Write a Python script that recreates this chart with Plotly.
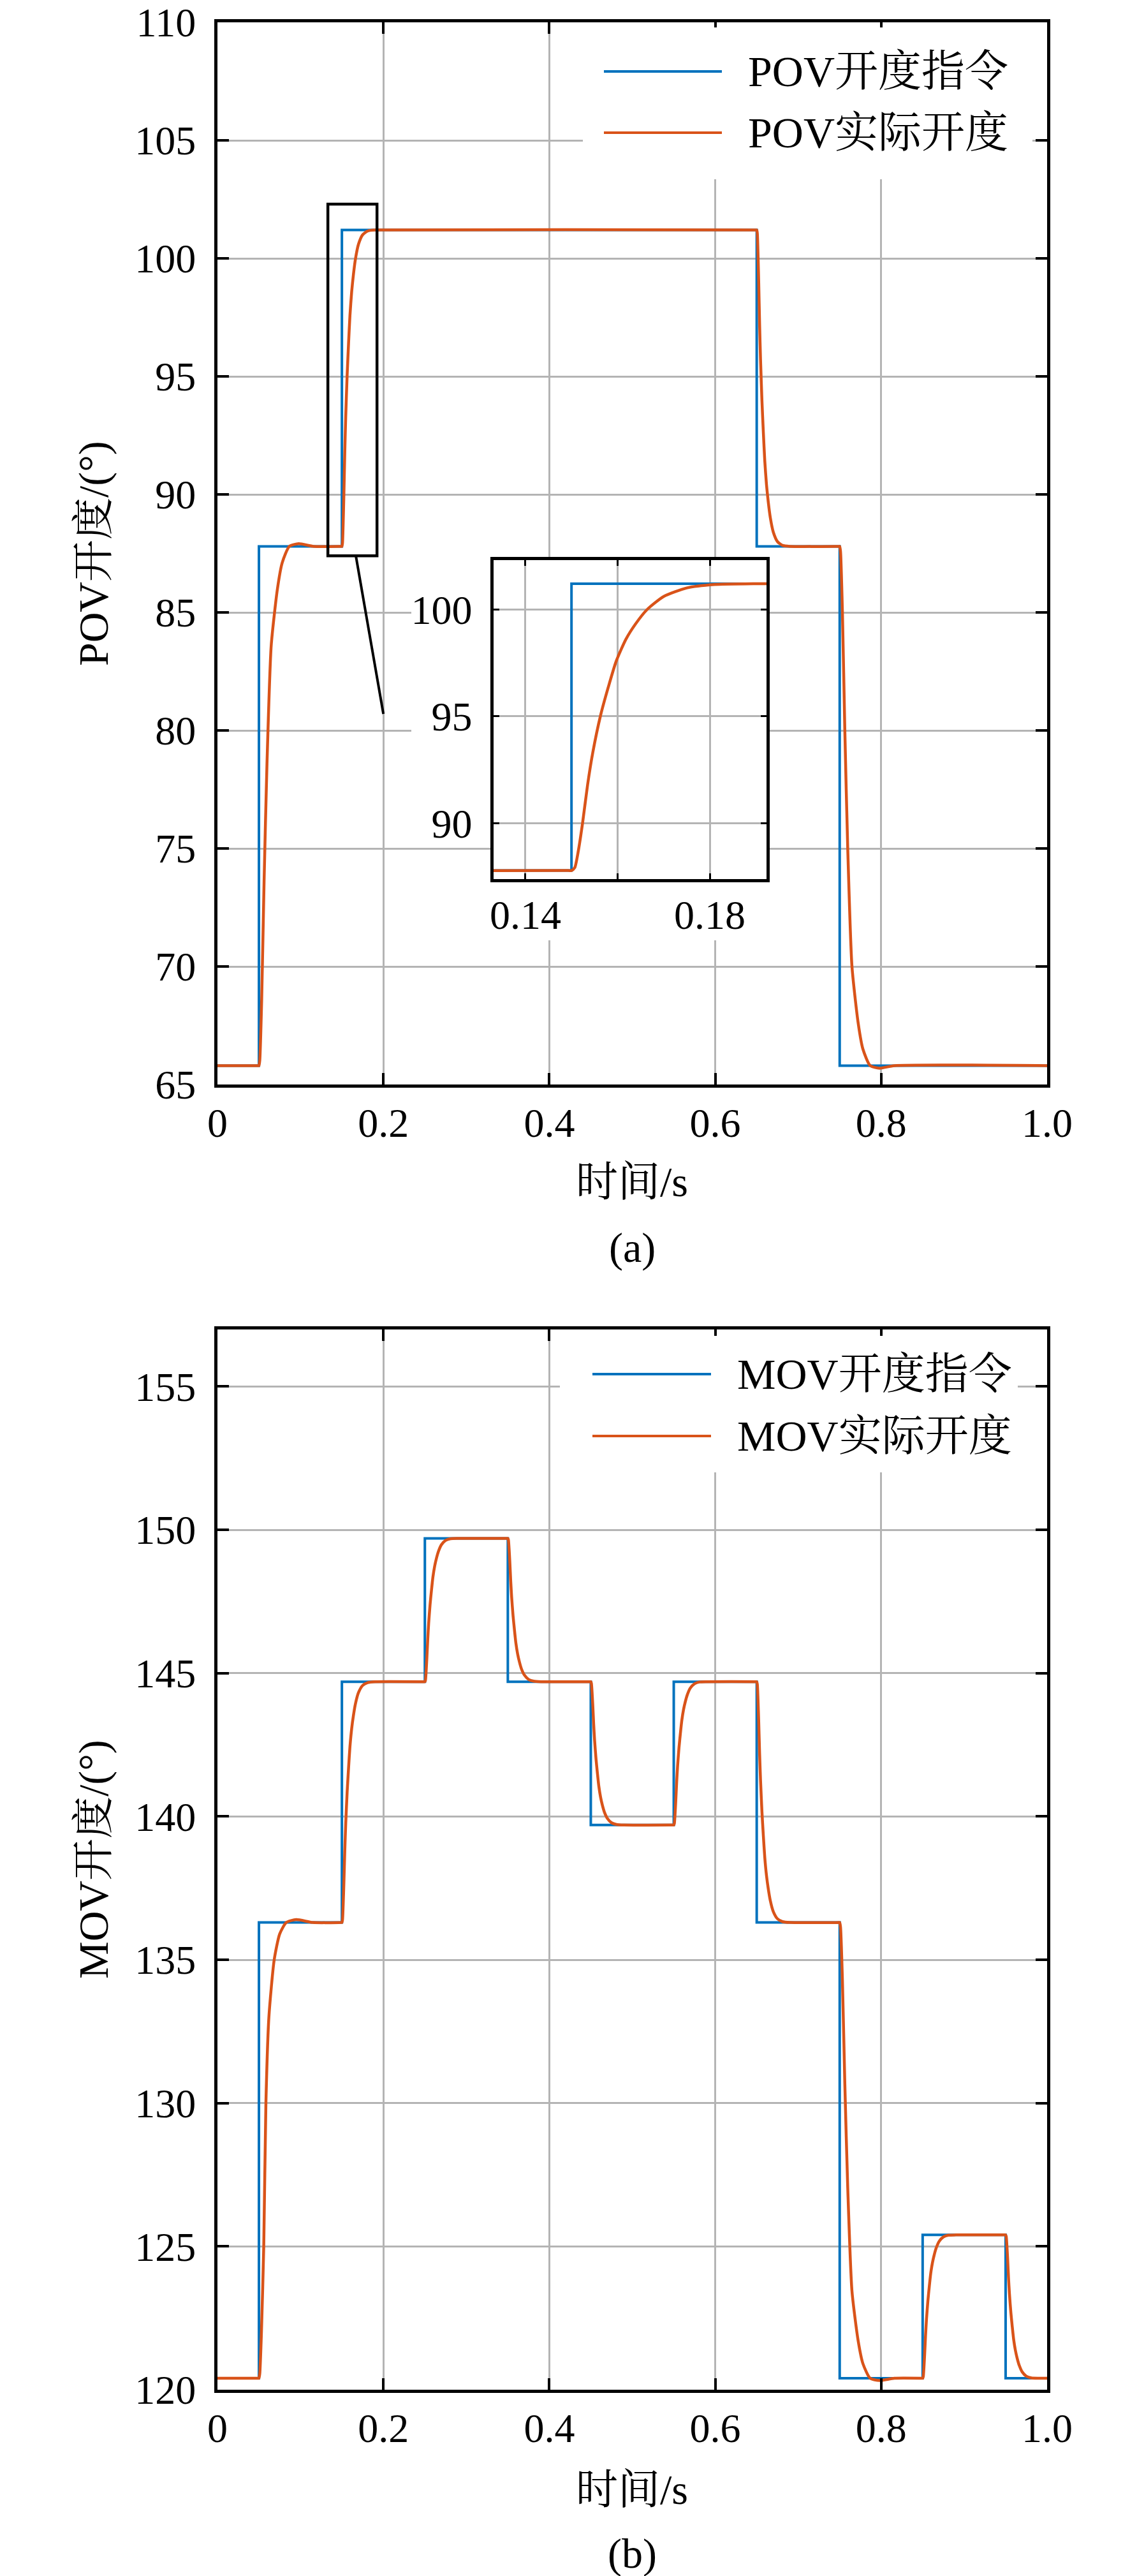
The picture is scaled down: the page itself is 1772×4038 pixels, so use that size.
import plotly.graph_objects as go

# ---- data ----
# (a) POV
pov_cmd_t = [0, 0.05, 0.15, 0.65, 0.75, 1.0]
pov_cmd = [65.8, 87.8, 101.2, 87.8, 65.8, 65.8]

pov_act_t = [0, 0.0493, 0.05,
             0.051, 0.0533, 0.0562, 0.0597, 0.0648, 0.0723, 0.078, 0.0867, 0.098, 0.116,
             0.1493, 0.15, 0.1507, 0.1515, 0.1524, 0.1535, 0.1546, 0.1563, 0.158, 0.1597, 0.1618,
             0.1639, 0.1664, 0.17, 0.175, 0.181, 0.19,
             0.6493, 0.65, 0.6507, 0.6515, 0.6524, 0.6535, 0.6546, 0.6563, 0.658, 0.6597, 0.6618,
             0.6639, 0.6664, 0.67, 0.675, 0.681, 0.69,
             0.7493, 0.75, 0.751, 0.7533, 0.7562, 0.7597, 0.7648, 0.7723, 0.778, 0.7867, 0.798, 0.816,
             1.0]
pov_act = [65.8, 65.8, 65.8,
           66.02, 68.59, 73.61, 78.60, 83.60, 86.00, 87.10, 87.80, 87.91, 87.80,
           87.8, 87.8, 87.93, 88.74, 90.01, 91.82, 93.29, 95.04, 96.38, 97.58, 98.60,
           99.32, 99.99, 100.60, 101.00, 101.16, 101.2,
           101.2, 101.2, 101.07, 100.26, 98.99, 97.18, 95.71, 93.96, 92.62, 91.42, 90.40,
           89.68, 89.01, 88.40, 88.00, 87.84, 87.80,
           87.8, 87.8, 87.58, 85.01, 79.99, 75.0, 70.0, 67.60, 66.50, 65.80, 65.69, 65.80,
           65.8]

# (b) MOV
mov_cmd_t = [0, 0.05, 0.15, 0.25, 0.35, 0.45, 0.55, 0.65, 0.75, 0.85, 0.95, 1.0]
mov_cmd = [120.4, 136.3, 144.7, 149.7, 144.7, 139.7, 144.7, 136.3, 120.4, 125.4, 120.4, 120.4]

mov_act_t = [0, 0.0493, 0.05,
             0.051, 0.053, 0.0558, 0.0584, 0.062, 0.0684, 0.075, 0.083, 0.095, 0.115,
             0.1493, 0.15, 0.1507, 0.1515, 0.1524, 0.1535, 0.1546, 0.1563, 0.158, 0.1597, 0.1618,
             0.1639, 0.1664, 0.17, 0.175, 0.181, 0.19,
             0.2493, 0.25, 0.2507, 0.2515, 0.2524, 0.2535, 0.2546, 0.2563, 0.258, 0.2597, 0.2618,
             0.2639, 0.2664, 0.27, 0.275, 0.281, 0.29,
             0.3493, 0.35, 0.3507, 0.3515, 0.3524, 0.3535, 0.3546, 0.3563, 0.358, 0.3597, 0.3618,
             0.3639, 0.3664, 0.37, 0.375, 0.381, 0.39,
             0.4493, 0.45, 0.4507, 0.4515, 0.4524, 0.4535, 0.4546, 0.4563, 0.458, 0.4597, 0.4618,
             0.4639, 0.4664, 0.47, 0.475, 0.481, 0.49,
             0.5493, 0.55, 0.5507, 0.5515, 0.5524, 0.5535, 0.5546, 0.5563, 0.558, 0.5597, 0.5618,
             0.5639, 0.5664, 0.57, 0.575, 0.581, 0.59,
             0.6493, 0.65, 0.6507, 0.6515, 0.6524, 0.6535, 0.6546, 0.6563, 0.658, 0.6597, 0.6618,
             0.6639, 0.6664, 0.67, 0.675, 0.681, 0.69,
             0.7493, 0.75, 0.751, 0.7533, 0.7562, 0.7597, 0.7648, 0.7723, 0.778, 0.7867, 0.798, 0.816,
             0.8493, 0.85, 0.8507, 0.8515, 0.8524, 0.8535, 0.8546, 0.8563, 0.858, 0.8597, 0.8618,
             0.8639, 0.8664, 0.87, 0.875, 0.881, 0.89,
             0.9493, 0.95, 0.9507, 0.9515, 0.9524, 0.9535, 0.9546, 0.9563, 0.958, 0.9597, 0.9618,
             0.9639, 0.9664, 0.97, 0.975, 0.981, 0.99,
             1.0]
mov_act = [120.4, 120.4, 120.4,
           120.56, 122.0, 125.0, 130.0, 133.0, 135.0, 135.9, 136.3, 136.4, 136.3,
           136.3, 136.3, 136.38, 136.89, 137.69, 138.82, 139.74, 140.84, 141.68, 142.43, 143.07,
           143.52, 143.94, 144.32, 144.57, 144.67, 144.7,
           144.7, 144.7, 144.75, 145.05, 145.53, 146.2, 146.75, 147.4, 147.9, 148.35, 148.73,
           149.0, 149.25, 149.48, 149.63, 149.69, 149.7,
           149.7, 149.7, 149.65, 149.35, 148.88, 148.2, 147.65, 147.0, 146.5, 146.05, 145.67,
           145.4, 145.15, 144.93, 144.78, 144.72, 144.7,
           144.7, 144.7, 144.65, 144.35, 143.88, 143.2, 142.65, 142.0, 141.5, 141.05, 140.67,
           140.4, 140.15, 139.93, 139.78, 139.72, 139.7,
           139.7, 139.7, 139.75, 140.05, 140.53, 141.2, 141.75, 142.4, 142.9, 143.35, 143.73,
           144.0, 144.25, 144.48, 144.63, 144.69, 144.7,
           144.7, 144.7, 144.62, 144.11, 143.31, 142.18, 141.26, 140.16, 139.32, 138.57, 137.93,
           137.48, 137.06, 136.68, 136.43, 136.33, 136.3,
           136.3, 136.3, 136.14, 134.28, 130.66, 127.05, 123.44, 121.70, 120.91, 120.4, 120.32, 120.4,
           120.4, 120.4, 120.45, 120.75, 121.23, 121.9, 122.45, 123.1, 123.6, 124.05, 124.43,
           124.7, 124.95, 125.18, 125.33, 125.39, 125.4,
           125.4, 125.4, 125.35, 125.05, 124.58, 123.9, 123.35, 122.7, 122.2, 121.75, 121.37,
           121.1, 120.85, 120.62, 120.47, 120.41, 120.4,
           120.4]

x_ticks = [0, 0.2, 0.4, 0.6, 0.8, 1.0]
x_labels = ["0", "0.2", "0.4", "0.6", "0.8", "1.0"]
pov_ticks = [65, 70, 75, 80, 85, 90, 95, 100, 105, 110]
mov_ticks = [120, 125, 130, 135, 140, 145, 150, 155]

inset_xrange = [0.1331, 0.1923]
inset_yrange = [87.4, 102.3]
inset_xticks = [0.14, 0.16, 0.18]
inset_xlabels = ["0.14", "", "0.18"]
inset_yticks = [90, 95, 100]
zoom_line_end = (0.2, 80.7)
zoom_line_start_x = 0.1668

legend_a = ["POV开度指令", "POV实际开度"]
legend_b = ["MOV开度指令", "MOV实际开度"]
ytitle_a = "POV开度/(°)"
ytitle_b = "MOV开度/(°)"
xtitle = "时间/s"

BLUE = "#0072BD"
ORANGE = "#D95319"
GRID = "#b4b4b4"
FONT = "Liberation Serif, Noto Serif CJK SC, Noto Sans CJK SC, serif"

W, H = 1772, 4038


def px(x0, x1):
    return [x0 / W, x1 / W]


def py(top, bottom):
    return [1 - bottom / H, 1 - top / H]


main_x = px(333, 1634)
cmd_line = dict(color=BLUE, width=4, shape="hv")
act_line = dict(color=ORANGE, width=4.5, shape="spline", smoothing=0.6)

fig = go.Figure()

# main (a)
fig.add_trace(go.Scatter(x=pov_cmd_t, y=pov_cmd, mode="lines", line=cmd_line, xaxis="x", yaxis="y"))
fig.add_trace(go.Scatter(x=pov_act_t, y=pov_act, mode="lines", line=act_line, xaxis="x", yaxis="y"))
# white patches (label backgrounds of inset, legend box)
for k in ["2", "3", "4"]:
    fig.add_trace(go.Scatter(x=[], y=[], xaxis="x" + k, yaxis="y" + k, hoverinfo="skip"))
# inset
fig.add_trace(go.Scatter(x=pov_cmd_t, y=pov_cmd, mode="lines", line=cmd_line, xaxis="x5", yaxis="y5"))
fig.add_trace(go.Scatter(x=pov_act_t, y=pov_act, mode="lines", line=act_line, xaxis="x5", yaxis="y5"))
# main (b)
fig.add_trace(go.Scatter(x=mov_cmd_t, y=mov_cmd, mode="lines", line=cmd_line, xaxis="x6", yaxis="y6"))
fig.add_trace(go.Scatter(x=mov_act_t, y=mov_act, mode="lines", line=act_line, xaxis="x6", yaxis="y6"))
fig.add_trace(go.Scatter(x=[], y=[], xaxis="x7", yaxis="y7", hoverinfo="skip"))

axis_common = dict(
    showline=True, linecolor="black", linewidth=5, mirror="allticks",
    ticks="inside", ticklen=18, tickwidth=4, tickcolor="black",
    showgrid=True, gridcolor=GRID, gridwidth=2.5, zeroline=False,
    ticklabeloverflow="allow", automargin=False,
    tickfont=dict(family=FONT, size=64, color="black"),
)
hidden = dict(visible=False, showgrid=False, zeroline=False, range=[0, 1],
              fixedrange=True, automargin=False)

fig.update_layout(
    xaxis=dict(axis_common, domain=main_x, anchor="y", range=[0, 1],
               tickvals=x_ticks, ticktext=x_labels, ticklabelstandoff=0),
    yaxis=dict(axis_common, domain=py(27, 1692), anchor="x", range=[65, 110],
               tickvals=pov_ticks, ticklabelstandoff=16),
    xaxis2=dict(hidden, domain=px(637, 766), anchor="y2"),
    yaxis2=dict(hidden, domain=py(885, 1305), anchor="x2"),
    xaxis3=dict(hidden, domain=px(750, 1200), anchor="y3"),
    yaxis3=dict(hidden, domain=py(1372, 1466), anchor="x3"),
    xaxis4=dict(hidden, domain=px(906, 1611), anchor="y4"),
    yaxis4=dict(hidden, domain=py(35, 273), anchor="x4"),
    xaxis5=dict(axis_common, domain=px(766, 1194), anchor="y5", range=inset_xrange,
                tickvals=inset_xticks, ticktext=inset_xlabels, ticklen=9, tickwidth=3,
                linewidth=4.5, ticklabelstandoff=-4),
    yaxis5=dict(axis_common, domain=py(870, 1370), anchor="x5", range=inset_yrange,
                tickvals=inset_yticks, ticklen=9, tickwidth=3, linewidth=4.5, ticklabelstandoff=16),
    xaxis6=dict(axis_common, domain=main_x, anchor="y6", range=[0, 1],
                tickvals=x_ticks, ticktext=x_labels, ticklabelstandoff=0),
    yaxis6=dict(axis_common, domain=py(2075.5, 3738), anchor="x6", range=[120, 157],
                tickvals=mov_ticks, ticklabelstandoff=16),
    xaxis7=dict(hidden, domain=px(870, 1588), anchor="y7"),
    yaxis7=dict(hidden, domain=py(2086, 2300), anchor="x7"),
)

shapes = []
# zoom box and connector on (a)
shapes.append(dict(type="rect", xref="x", yref="y", x0=inset_xrange[0], x1=inset_xrange[1],
                   y0=inset_yrange[0], y1=inset_yrange[1], line=dict(color="black", width=4.5),
                   layer="above"))
shapes.append(dict(type="line", xref="x", yref="y", x0=zoom_line_start_x, y0=inset_yrange[0],
                   x1=zoom_line_end[0], y1=zoom_line_end[1], line=dict(color="black", width=4),
                   layer="above"))

annotations = []


def add_legend(labels, x0, x1, ys, xtext):
    for lab, col, yy in zip(labels, [BLUE, ORANGE], ys):
        shapes.append(dict(type="line", xref="paper", yref="paper", x0=x0 / W, x1=x1 / W,
                           y0=1 - yy / H, y1=1 - yy / H, line=dict(color=col, width=4), layer="above"))
        annotations.append(dict(text=lab, xref="paper", yref="paper", x=xtext / W, y=1 - yy / H,
                                xanchor="left", yanchor="middle", showarrow=False,
                                font=dict(family=FONT, size=68, color="black")))


add_legend(legend_a, 939, 1124, [104, 200], 1163)
add_legend(legend_b, 921, 1107, [2146, 2243], 1146)


def add_text(text, x, y, size=66, angle=0):
    annotations.append(dict(text=text, xref="paper", yref="paper", x=x / W, y=1 - y / H,
                            xanchor="center", yanchor="middle", showarrow=False, textangle=angle,
                            font=dict(family=FONT, size=size, color="black")))


add_text(xtitle, 983, 1845)
add_text("(a)", 983, 1948)
add_text(ytitle_a, 139, 860, angle=-90)
add_text(xtitle, 983, 3894)
add_text("(b)", 983, 3995)
add_text(ytitle_b, 139, 2907, angle=-90)

fig.update_layout(
    shapes=shapes,
    annotations=annotations,
    width=W, height=H,
    autosize=False,
    margin=dict(l=0, r=0, t=0, b=0, pad=0, autoexpand=False),
    paper_bgcolor="white",
    plot_bgcolor="white",
    font=dict(family=FONT, color="black"),
    showlegend=False,
)

fig.write_html("out.html", config=dict(displayModeBar=False))
